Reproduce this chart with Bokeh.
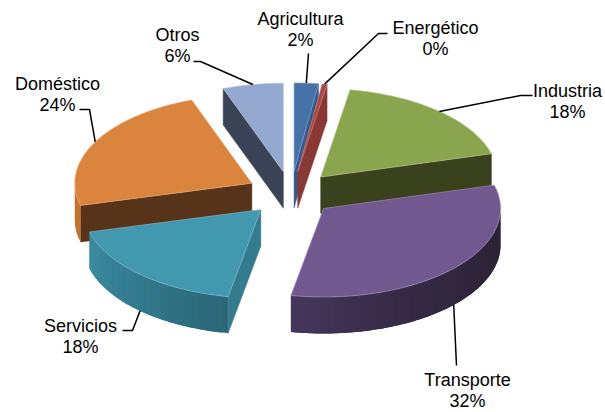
import numpy as np
from bokeh.plotting import figure
from bokeh.models import Range1d
from bokeh.core.properties import value
from bokeh.embed import file_html
from bokeh.resources import INLINE

categories = ["Agricultura", "Energético", "Industria", "Transporte", "Servicios", "Doméstico", "Otros"]
values = [2.2, 0.45, 18.1, 32.2, 18.0, 23.53, 5.52]

top_colors = ["#4572A7", "#AA4643", "#89A54E", "#71588F", "#4198AF", "#DB843D", "#93A9CF"]
wall_colors = ["#35598A", "#8A3836", "#3A421D", "#2D2438", "#347B8D", "#57331A", "#3B4457"]
rim_from = ["#35598A", "#8A3836", "#3A421D", "#2C2337", "#2A6676", "#C0742F", "#3B4457"]
rim_to = ["#35598A", "#8A3836", "#3A421D", "#46375C", "#3B8CA3", "#C0742F", "#3B4457"]
draw_order = [6, 0, 1, 2, 5, 3, 4]

# label layout: text centre of first line, then leader elbow points
label_xy = [(300, 18), (435, 27), (177, 34), (57, 83), (567, 90), (80, 325), (467, 379)]
label_order = [0, 1, 6, 5, 2, 4, 3]
leader_tail = {
    0: [(308, 53)],
    1: [(378, 33), (387, 33)],
    2: [(520, 95), (532, 95)],
    3: [(456, 365)],
    4: [(132, 330), (122, 330)],
    5: [(89, 109), (79, 109)],
    6: [(200, 61), (193, 61)],
}

W, H = 605, 412
CX, CY, A, B, DEPTH, EXPLODE = 290.5, 193.0, 177.0, 88.5, 36.5, 0.25


def hex2rgb(h):
    return np.array([int(h[i:i + 2], 16) for i in (1, 3, 5)], float)


def mix(c1, c2, t):
    r = hex2rgb(c1) * (1 - t) + hex2rgb(c2) * t
    return "#%02x%02x%02x" % tuple(int(round(v)) for v in r)


total = sum(values)
edges = np.concatenate([[0], np.cumsum(values)]) / total * 2 * np.pi


def pt(th):
    return A * np.sin(th), -B * np.cos(th)


p = figure(width=W, height=H, output_backend="svg", toolbar_location=None,
           x_range=Range1d(0, W), y_range=Range1d(H, 0),
           min_border=0, outline_line_color=None)
p.axis.visible = False
p.grid.visible = False

apexes = []
for i in range(len(values)):
    mid = (edges[i] + edges[i + 1]) / 2
    dx, dy = pt(mid)
    apexes.append((CX + EXPLODE * dx, CY + EXPLODE * dy))

for i in draw_order:
    s, e = edges[i], edges[i + 1]
    ax, ay = apexes[i]
    # radial walls
    for th, visible in ((e, 0 < e < np.pi), (s, np.pi < s < 2 * np.pi)):
        if visible:
            dx, dy = pt(th)
            p.patch([ax, ax + dx, ax + dx, ax], [ay, ay + dy, ay + dy + DEPTH, ay + DEPTH],
                    fill_color=wall_colors[i], line_color=wall_colors[i], line_width=0.5)
    # outer rim, only the part facing the viewer; bands overlap so no seams show
    r0, r1 = max(s, np.pi / 2), min(e, 3 * np.pi / 2)
    if r1 > r0:
        n = max(2, int(np.degrees(r1 - r0) / 2))
        ths = np.linspace(r0, r1, n + 1)
        for k in range(n):
            seg = np.linspace(ths[k], ths[min(k + 2, n)], 5)
            x0, y0 = pt(seg)
            c = mix(rim_from[i], rim_to[i], min(1.0, ((k + .5) / n) ** 2 if i == 3 else (k + .5) / n))
            p.patch(np.r_[ax + x0, (ax + x0)[::-1]], np.r_[ay + y0, (ay + y0 + DEPTH)[::-1]],
                    fill_color=c, line_color=None)
    # top face
    ths = np.linspace(s, e, max(3, int(np.degrees(e - s))))
    xs, ys = pt(ths)
    p.patch(np.r_[ax, ax + xs], np.r_[ay, ay + ys], fill_color=top_colors[i],
            line_color=mix(top_colors[i], "#ffffff", 0.35), line_width=0.8, line_alpha=0.8)

# leaders start on the slice at its mid angle
for i in range(len(values)):
    mid = (edges[i] + edges[i + 1]) / 2
    dx, dy = pt(mid)
    x0, y0 = apexes[i][0] + dx, apexes[i][1] + dy
    if np.pi / 2 < mid < 3 * np.pi / 2:
        y0 += DEPTH
    tail = leader_tail[i]
    p.line([x0] + [q[0] for q in tail], [y0] + [q[1] for q in tail], line_color="#000000", line_width=1.5)

for (lx, ly), i in zip(label_xy, label_order):
    pct = f"{round(values[i])}%"
    p.text([lx, lx], [ly, ly + 21.5], text=[categories[i], pct],
           text_font=value("Liberation Sans"), text_font_size="18px", text_color="#000000",
           text_align="center", text_baseline="middle")

open("out.html", "w").write(file_html(p, INLINE))
